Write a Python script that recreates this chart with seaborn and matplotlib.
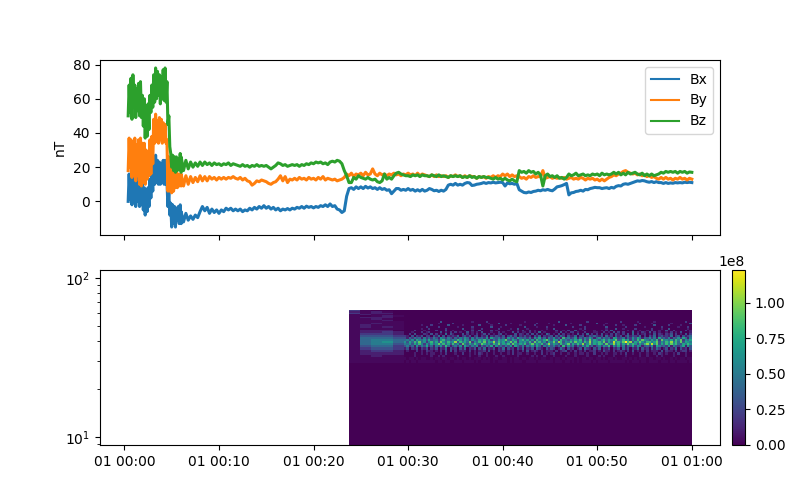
import numpy as np
import pandas as pd
import seaborn as sns
import matplotlib
matplotlib.use("Agg")
import matplotlib.pyplot as plt
import matplotlib.dates as mdates

# Magnetic field components: first stretch sampled every 0.1 min from 0.4 min
bx_early = [0,16,1,14,-2,16,0,14,-3,12,0,14,-3,14,-2,10,-5,8,-8,7,-6,8,-3,13,2,15,6,22,10,27,11,24,10,23,10,22,11,24,10,24,10,12,-3,5,-8,-1,-15,-2,-13,-3,-15,-4,-11,-3,-13,-2,-13]
by_early = [18,37,20,36,14,35,16,37,12,33,15,36,10,37,9,34,11,34,10,30,13,28,15,36,16,38,22,48,34,51,35,47,34,49,36,48,34,46,35,45,34,36,6,26,6,22,5,18,6,17,8,17,8,16,9,16,9]
bz_early = [50,68,52,72,48,74,56,68,49,66,53,69,50,70,49,62,44,60,37,56,38,57,42,62,52,68,55,74,58,78,60,76,62,74,57,73,60,77,59,78,58,70,45,50,32,28,20,27,18,26,17,26,18,25,19,28,17]

# Remainder sampled every 0.25 min from 6 to 60 min, one row per 6 min
bx_late = [
    -6,-12,-7,-11,-8.5,-10.5,-8,-9.5,-6,-3,-5.5,-3.5,-7,-4.5,-6.5,-5,-7,-5,-6,-4,-5,-4,-5.5,-4.5,
    -5.5,-4.5,-6,-5,-5.5,-4,-5,-3.5,-4.5,-3,-4,-2.5,-4,-3,-4.5,-3.5,-5,-4,-5.5,-4.5,-5,-4.2,-5,-4,
    -4.5,-3.5,-4,-3,-4,-2.8,-3.5,-3,-3.8,-3,-3.5,-2.5,-3,-2,-3,-1.5,-3,-2.5,-4.5,-5,-6.5,-5.5,3,7.5,
    8,7,8.5,7.5,8.5,7.5,8.8,7.8,8.5,7.5,8,7,8,7,7.5,6.5,6.8,4.5,6,7.5,7.5,6.5,7,6.5,
    7.5,6.5,7,6,6.8,6,7,6,6.5,7.5,7,6.2,6.5,5.8,6.5,6,7,9.5,10,9.5,10.5,9.5,10,9.5,
    10.5,11,10.8,9.3,9.5,10,10.2,10.5,11,10.5,11,10.8,11.2,10.8,11,11.2,11,9,10.8,10.3,10.5,10,10.5,6.8,
    6,5.2,5,5.5,5.2,5.8,6,6.5,6.2,6.8,6.5,7,6.5,6.2,7.2,8.5,8.8,9.2,9.8,10.5,3.8,5,5.2,5.8,
    6,6.5,6,7,6.8,7.5,7.8,8.2,8,8,7.5,7.8,8,7.5,8.2,7.8,8.8,9.2,9,10,10.3,10,10.5,11,
    11.5,12,11.8,12.2,12,11.5,11.2,11.6,11,11.5,11,11,10.5,11,10.5,10.8,10.6,11,10.8,11,10.8,11.2,11,11.2,
    11,
]
by_late = [
    16,9,15,10,14.5,11,14,11.5,15,12,14.5,12,14.5,13,14,12.5,14,13,14,13,14,13.5,14.5,13.5,
    13,14,12.5,13.5,12,11.5,9.5,10.5,12,11.5,12.5,12,11.5,10.5,10,11,11.5,13,15,12,14.5,11,13,12.5,
    13.5,12.5,14,13,13.5,12.5,14,13,13.5,12.5,14,13,14.5,12.5,13.5,13,12.5,13,12,12.5,13,14,16,15,
    16.5,14.5,16,15.5,16.5,15,17,15.5,16,19,16,15,16.5,15.5,16,15,16,15.5,16.5,15.5,16,15,16,15.5,
    16.5,15.5,16,15,16.5,15,16,15.5,15,14.5,15.5,14.5,15.5,14.5,15,14.5,15,14,15,14.5,15.5,14.5,15,14,
    15,14,15,14.5,14.5,13.5,14.5,14,14.5,13.5,14.5,14,15,14,15,14.5,16,15,16,14.5,15.5,14.5,15,14.5,
    13.5,14,13,14.5,14,15,14,14.5,14.5,18,13.5,14,14.5,13.5,14,13.5,14,13.5,14,13,13.5,14,13,13.5,
    13,14,13.5,12.5,13.5,13,13.5,12.5,13,12,13,12,13,14,14.5,15.5,15,16,16.5,17.5,18,17,16.5,16,
    16.5,15.5,16,15,15.5,14.5,15,14,14.5,13.5,13,14,13,14,13,13.5,12.5,13.5,13,14,13,13.5,12.5,13.5,
    13,
]
bz_late = [
    26,18,24,19,23,20,22.5,20.5,23,21,23,21.5,22.5,21,22.5,21.5,22,21,22,21.5,22.5,21,22,21.5,
    21,20.5,21.5,20.5,21,20,21,20.5,21.5,20.5,21,20.5,21,20,19,20,21,22.5,22,21,21.5,20.5,21,21.5,
    21,21.5,20.5,21.5,21,22,21.5,22.5,22,23,22.5,23,22,22.5,21.5,23,23.5,23,24,23.5,22,18,15,11,
    11,14,13,15,14,13.5,13,14,13,12.5,13,11.5,11,12,16,13,14,13,15,16.5,17,16,15.5,15,
    15,14.5,15.5,15,15.5,14.5,15.5,15,15,14.5,15.5,15,14.5,15.5,14.5,15,14.5,14,15,14.5,15,14.5,15,14,
    14.5,14,15,14,14.5,13.5,14.5,14,14.5,14,14,13.5,13,14,13,13.5,12.5,13.5,12.5,12,13,12,11.5,18,
    17,17.5,16.5,18,17,17.5,16,17,15.5,9,15,16,14.5,15,14,15,13.5,14,13,14,16,15,15.5,16.5,
    15,15.5,16,15,15.5,15,16,15.5,16,15,16.5,15.5,16,15.5,16,17,16,17,15.5,16.5,15.5,17,16,16.5,
    17,16,15.5,16.5,15,16,15,16,15,15.5,16,17,16.5,17.5,17,17.5,17,17.5,16.5,17.5,17,17.5,16.5,17.2,
    17,
]

# Spectrogram power levels, one string per frequency bin from highest to lowest.
# The first 5 characters are the coarse segments, the other 120 the fine ones.
# Hex digits are levels; '.' is a faint background level.
power_rows = [
    "2.000",
    "1.1.0",
    "2.110",
    ".1..0",
    ".0.1.",
    ".1110",
    "..1.0",
    "...10",
    "..... 0000000000 0000030000 0000000010 0000200000 0000000000 1000000000 0000300000 0000002000 0000000000 2000000100 0000100000 0000000200",
    "..1.. 0000000000 0000100000 2000000000 0000010003 0000100000 0000020000 1000000001 0000000000 3000100000 0000000020 0001000000 0100000003",
    ".1... 0000000100 0200000030 0000100000 0300001000 0020000010 0000200000 0010000300 0002000000 0001000020 0100002000 0000300000 2000010000",
    ".1.1. 0000000002 0000200000 0010000020 0000003000 1000000000 3000010002 0000000000 2000020000 0000300000 0020000000 1000000200 0000100020",
    "..... 0000000100 2000000200 0000300010 0020000002 0000100300 0100000001 0030000000 0001020000 0000100030 0100002000 0002000100 3000000010",
    ".1110 0000200010 0002000300 1000010020 0300002010 0001000102 0020100100 0002001020 0300100001 0010203000 0001020010 0102001003 0020000201",
    ".1121 0001000201 2000030102 0201003010 1030001002 0100030201 1020104010 0001030102 2010020001 1002010302 0200040102 1030201001 0201030001",
    ".2221 0020300021 0302010403 1000302010 2013020102 3010003021 0203020104 2010302010 1030204020 2030102031 0203040201 2010302102 1302010302",
    ".3332 2103021302 2031403021 2140231302 3021402132 1302413021 3120314021 2303142031 1402301324 2130412031 3024132140 2031402312 1402303124",
    ".4443 3142534152 4253164253 1425364152 5342617435 2416352743 4251637241 5362418352 3614253741 4625341762 3514263751 4362517342 5143627415",
    ".4554 4536275463 7345268453 5486375264 3758462537 5694375268 4736285479 5376284536 4758263947 5368475693 4857263849 6537482956 4738592647",
    ".4564 6374859462 5847396485 6a38574926 4859376a48 5736948265 7483958462 7594a83658 4967385a47 6859374b68 59c8a37596 4885793648 6a58493765",
    ".4553 5463748526 3746958473 8462953748 5397463859 4758396475 8369475836 a475384693 7485a36947 5873946a58 3749586374 8a5b693748 5968437586",
    ".3442 3524162537 2415362841 3526174253 6142537163 4253617425 1536274153 6352418263 5142637241 3526481637 2514372651 3426175342 6153247163",
    ".2332 1302130213 0213021403 1203140213 0314021302 1403120314 0213042103 1320142031 2013042103 1402130213 0413021403 1203142013 0214031203",
    ".1221 0100020102 1101020303 0201110201 0112030102 1201020102 0301210201 1102012301 0201020112 0103110201 2102030102 0201110302 1102012201",
    ".1111 0000100101 0110010200 0100200101 0210100100 1001020110 0100100201 0120010010 0101101002 0010100110 1020010010 0100102101 0010200100",
    "..1.. 0000100000 0100101000 0010000100 0100100010 0100000100 0001010010 0010000100 0100001000 0101000100 0010000010 0100010100 0010000100",
    "..... .0..0.0..0 0.0..0..0. .0.0..0.0. ..0.0.0..0 0..0.0..0. .0..0.0..0 0.0..0.0.. .0.0..0..0 ..0.0..0.0 0..0.0.0.. .0..0..0.0 0.0.0..0..",
    "..... 0.0..0.... ...0..0..0 0...0....0 .0....0.0. ...0.0...0 0....0.... ..0...0..0 .0.0....0. 0....0.... ..0.0...0. .0....0... 0..0....0.",
]

N_BINS = 45
N_SEGMENTS = 125
LEVEL_SIZE = 1.025e7
FAINT_LEVEL = 0.25

# Build the time axis for each stretch of samples
t_early = 0.4 + 0.1 * np.arange(len(bz_early))
t_late = 6 + 0.25 * np.arange(len(bz_late))
minutes = np.concatenate([t_early, t_late])
start = pd.Timestamp("2000-01-01")
times = start + pd.to_timedelta(minutes, unit="min")

field = pd.DataFrame({
    "time": np.tile(times, 3),
    "value": np.concatenate([bx_early + bx_late, by_early + by_late, bz_early + bz_late]),
    "component": np.repeat(["Bx", "By", "Bz"], len(minutes)),
})

# Decode the level strings into a power matrix, lowest frequency first
power = np.zeros((N_BINS, N_SEGMENTS))
for k, row in enumerate(power_rows):
    chars = row.replace(" ", "").ljust(N_SEGMENTS, "0")[:N_SEGMENTS]
    levels = [FAINT_LEVEL if c == "." else int(c, 16) for c in chars]
    power[N_BINS - 1 - k] = np.array(levels) * LEVEL_SIZE

freq_edges = 8.9 + 1.2 * np.arange(N_BINS + 1)
time_edges = np.concatenate([
    np.linspace(23.77, 29.57, 6),
    np.linspace(29.57, 60, 121)[1:],
])
time_edges_num = mdates.date2num(start + pd.to_timedelta(time_edges, unit="min"))

fig, (ax_b, ax_s) = plt.subplots(2, 1, sharex=True, figsize=(8, 5), dpi=100)

# Thick strokes stand in for the high-rate jitter of the field samples
sns.lineplot(data=field, x="time", y="value", hue="component",
             palette=["tab:blue", "tab:orange", "tab:green"],
             estimator=None, sort=False, linewidth=2.2, ax=ax_b)
legend = ax_b.legend(loc="upper right")
for handle in legend.get_lines():
    handle.set_linewidth(1.5)
ax_b.set_xlabel("")
ax_b.set_ylabel("nT")

mesh = ax_s.pcolormesh(time_edges_num, freq_edges, power, cmap="viridis",
                       vmin=0, vmax=power.max(), shading="flat")
ax_s.set_yscale("log")
ax_s.set_ylim(8.9, 112)

# Shared time range: field samples plus a 5% margin either side
span = minutes.max() - minutes.min()
ax_s.set_xlim(start + pd.Timedelta(minutes=minutes.min() - 0.05 * span),
              start + pd.Timedelta(minutes=minutes.max() + 0.05 * span))
ax_s.xaxis.set_major_locator(mdates.MinuteLocator(byminute=range(0, 60, 10)))
ax_s.xaxis.set_major_formatter(mdates.DateFormatter("%d %H:%M"))

# Colour bar sits in its own slim axes so the spectrogram keeps its full width
cax = fig.add_axes([732 / 800, 0.11, 13 / 800, 0.35])
fig.colorbar(mesh, cax=cax)

fig.savefig("out.png", dpi=100)
